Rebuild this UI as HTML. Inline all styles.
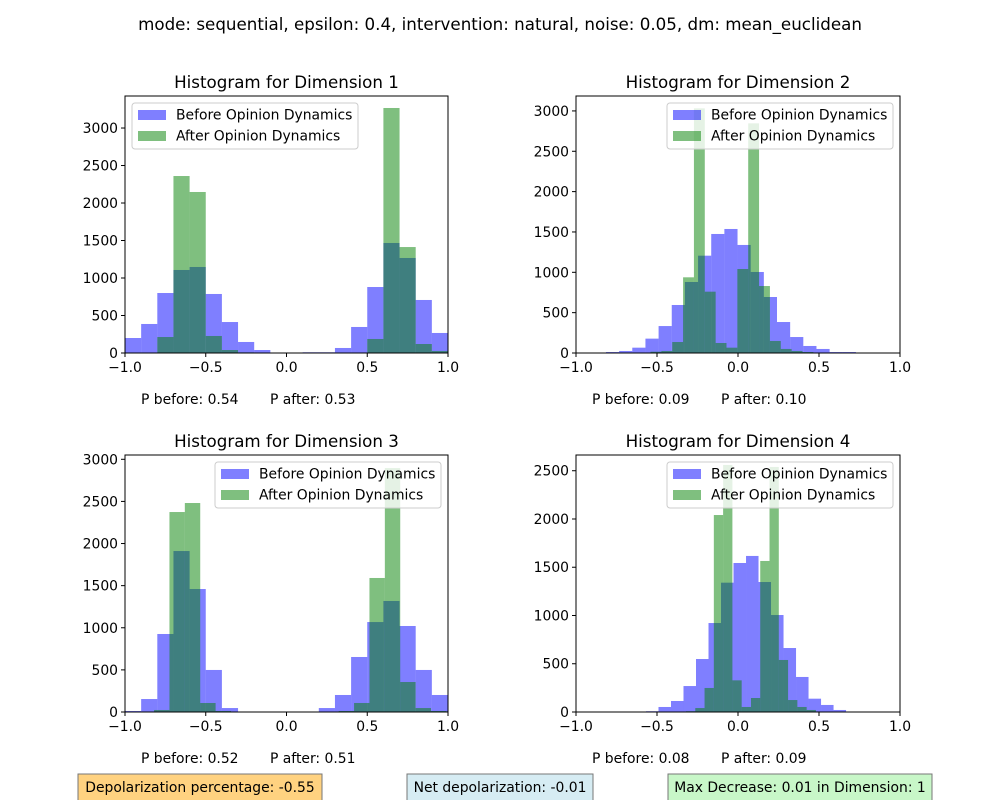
<!DOCTYPE html>
<html><head><meta charset="utf-8">
<style>
body{margin:0;background:#fff;}
svg{display:block;font-family:"DejaVu Sans","Liberation Sans",sans-serif;}
</style></head>
<body>
<svg id="fig" width="1000" height="800" viewBox="0 0 1000 800" xmlns="http://www.w3.org/2000/svg">
<rect width="1000" height="800" fill="#fff"/>
<text x="500" y="30" text-anchor="middle" font-size="16.7">mode: sequential, epsilon: 0.4, intervention: natural, noise: 0.05, dm: mean_euclidean</text>
</svg>
<script>
// Dimension 1
const d1BeforeRange = [-1.0, 1.0];
const d1Before = [200,387,800,1107,1147,787,413,147,40,5,0,10,10,67,347,880,1467,1267,707,267];
const d1AfterRange = [-1.0, 1.0];
const d1After = [5,5,213,2360,2147,227,40,8,0,0,0,0,0,0,0,187,3267,1413,120,27];
// Dimension 2
const d2BeforeRange = [-0.815, 0.728];
const d2Before = [12,25,66,178,334,595,880,1206,1475,1537,1339,1004,694,384,198,87,50,12,12];
const d2AfterRange = [-0.54, 0.465];
const d2After = [16,25,136,938,3032,760,124,66,1041,2846,830,149,50,25,12];
// Dimension 3
const d3BeforeRange = [-1.0, 1.0];
const d3Before = [12,154,926,1911,1460,499,47,0,0,0,0,5,47,202,653,1068,1318,1021,499,202];
const d3AfterRange = [-0.82, 0.99];
const d3After = [24,2374,2481,107,12,0,0,0,0,0,0,0,12,107,1591,2896,356,47,12];
// Dimension 4
const d4BeforeRange = [-0.568, 0.667];
const d4Before = [8,52,114,269,549,922,1340,1544,1617,1347,1005,663,363,138,73,21];
const d4AfterRange = [-0.321, 0.481];
const d4After = [8,41,249,2041,2560,328,52,145,1565,2539,539,124,52,21];

const xTicks = [-1.0,-0.5,0,0.5,1.0];
const xTickLabels = ["\u22121.0","\u22120.5","0.0","0.5","1.0"];
const pBefore = ["0.54","0.09","0.52","0.08"];
const pAfter = ["0.53","0.10","0.51","0.09"];

const NS="http://www.w3.org/2000/svg";
const svg=document.getElementById('fig');
const FS=13.9;
function mk(tag,attrs,parent){const e=document.createElementNS(NS,tag);for(const k in attrs)e.setAttribute(k,attrs[k]);(parent||svg).appendChild(e);return e;}

const panels=[
 {x0:125,x1:448,y0:96,y1:353,ymax:3427,yt:[0,500,1000,1500,2000,2500,3000],b:d1Before,br:d1BeforeRange,a:d1After,ar:d1AfterRange,leg:[132,103]},
 {x0:576,x1:900,y0:96,y1:353,ymax:3185,yt:[0,500,1000,1500,2000,2500,3000],b:d2Before,br:d2BeforeRange,a:d2After,ar:d2AfterRange,leg:[667,103]},
 {x0:125,x1:448,y0:455,y1:712,ymax:3051,yt:[0,500,1000,1500,2000,2500,3000],b:d3Before,br:d3BeforeRange,a:d3After,ar:d3AfterRange,leg:[215,462]},
 {x0:576,x1:900,y0:455,y1:712,ymax:2663,yt:[0,500,1000,1500,2000,2500],b:d4Before,br:d4BeforeRange,a:d4After,ar:d4AfterRange,leg:[667,462]}
];

panels.forEach((p,i)=>{
  const g=mk('g',{});
  
  
  const xs=v=>p.x0+(v+1)/2*(p.x1-p.x0);
  const ys=v=>p.y1-v/p.ymax*(p.y1-p.y0);
  function series(counts,range,color,name){
    const w=(range[1]-range[0])/counts.length;
    counts.forEach((c,k)=>{
      if(c<=0)return;
      const xa=xs(range[0]+k*w), xb=xs(range[0]+(k+1)*w);
      const r=mk('rect',{x:xa,y:ys(c),width:xb-xa,height:p.y1-ys(c),fill:color,'fill-opacity':0.5},g);
      
      
    });
  }
  series(p.b,p.br,'#0000ff','before');
  series(p.a,p.ar,'#008000','after');
  const fr=mk('rect',{x:p.x0,y:p.y0,width:p.x1-p.x0,height:p.y1-p.y0,fill:'none',stroke:'#000','stroke-width':1},g);
  
  
  xTicks.forEach((t,k)=>{
    const x=xs(t);
    mk('line',{x1:x,x2:x,y1:p.y1,y2:p.y1+4,stroke:'#000'},g);
    const tx=mk('text',{x:x,y:p.y1+19,'text-anchor':'middle','font-size':FS},g);
    tx.textContent=xTickLabels[k];
    
    
  });
  p.yt.forEach(t=>{
    const y=ys(t);
    mk('line',{x1:p.x0-4,x2:p.x0,y1:y,y2:y,stroke:'#000'},g);
    const tx=mk('text',{x:p.x0-7,y:y+5,'text-anchor':'end','font-size':FS},g);
    tx.textContent=String(t);
    
    
  });
  const ti=mk('text',{x:(p.x0+p.x1)/2,y:p.y0-8,'text-anchor':'middle','font-size':16.7},g);
  ti.textContent='Histogram for Dimension '+(i+1);
  
  
  const lg=mk('g',{},g);
  
  
  const [lx,ly]=p.leg;
  mk('rect',{x:lx,y:ly,width:226,height:46,rx:3,fill:'#fff','fill-opacity':0.8,stroke:'#ccc'},lg);
  mk('rect',{x:lx+6,y:ly+7,width:28,height:10,fill:'#0000ff','fill-opacity':0.5},lg);
  mk('rect',{x:lx+6,y:ly+28,width:28,height:10,fill:'#008000','fill-opacity':0.5},lg);
  const l1=mk('text',{x:lx+44,y:ly+16.5,'font-size':FS},lg);l1.textContent='Before Opinion Dynamics';
  
  
  const l2=mk('text',{x:lx+44,y:ly+37.5,'font-size':FS},lg);l2.textContent='After Opinion Dynamics';
  
  
  const pb=mk('text',{x:p.x0+16,y:p.y1+51,'font-size':FS},g);pb.textContent='P before: '+pBefore[i];
  
  
  const pa=mk('text',{x:p.x0+145,y:p.y1+51,'font-size':FS},g);pa.textContent='P after: '+pAfter[i];
  
  
});

const boxes=[
 {x:78,w:244,fill:'#ffd280',t:'Depolarization percentage: -0.55',n:'depolarization-percentage-box'},
 {x:407,w:186,fill:'#d6ecf3',t:'Net depolarization: -0.01',n:'net-depolarization-box'},
 {x:668,w:264,fill:'#c8f7c8',t:'Max Decrease: 0.01 in Dimension: 1',n:'max-decrease-box'}
];
boxes.forEach(b=>{
  const g=mk('g',{});
  
  
  mk('rect',{x:b.x,y:774,width:b.w,height:30,fill:b.fill,stroke:'#777'},g);
  const t=mk('text',{x:b.x+b.w/2,y:792,'text-anchor':'middle','font-size':FS},g);
  t.textContent=b.t;
});
</script>
</body></html>
